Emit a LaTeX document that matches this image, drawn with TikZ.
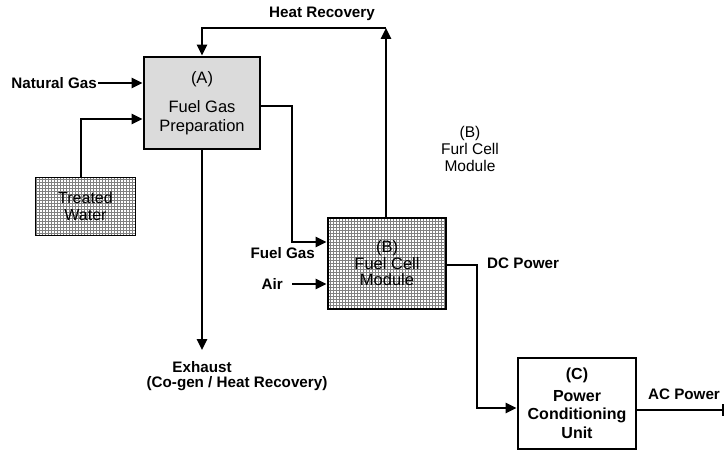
\documentclass[tikz,border=0pt]{standalone}
\usepackage{fontspec}
\setmainfont{Liberation Sans}
\usetikzlibrary{arrows.meta,patterns}
\begin{document}
\begin{tikzpicture}[
        x=1pt, y=-1pt,
        unit/.style={draw, line width=2.6pt, inner sep=0pt, align=center, font=\fontsize{16.5}{19}\selectfont},
        mesh/.style={pattern=grid, pattern color=black!50},
        lbl/.style={font=\bfseries\fontsize{15.2}{17}\selectfont, inner sep=1pt},
        flow/.style={line width=2.5pt, -{Triangle[length=11pt, width=10pt]}},
      ]
        \useasboundingbox (0,0) rectangle (725,452);

        % Process units
        \node[unit, fill=black!14, minimum width=116pt, minimum height=92pt] (prep) at (202,103)
          {(A)\\[10pt]Fuel Gas\\Preparation};
        \node[unit, mesh, line width=1.6pt, minimum width=100pt, minimum height=58pt, font=\fontsize{16}{17}\selectfont] (water) at (85.5,206.5)
          {Treated\\Water};
        \node[unit, mesh, minimum width=118pt, minimum height=91pt, font=\fontsize{16.5}{16.5}\selectfont] (fcm) at (387,263.5)
          {(B)\\Fuel Cell\\Module};
        \node[unit, fill=white, minimum width=118pt, minimum height=91pt, font=\bfseries\fontsize{16}{18.5}\selectfont] (pcu) at (577,403.5)
          {(C)\\[3pt]Power\\Conditioning\\Unit};

        % Labels
        \node[lbl, anchor=east] (ng) at (98,83) {Natural Gas};
        \node[lbl] (hr) at (322,14) {Heat Recovery};
        \node[lbl] (exh) at (202,367) {Exhaust};
        \node[lbl] (cogen) at (237,384) {(Co-gen / Heat Recovery)};
        \node[lbl, anchor=east] (fg) at (316,253) {Fuel Gas};
        \node[lbl, anchor=east] (air) at (284,284) {Air};
        \node[lbl, anchor=west] (dc) at (486,263) {DC Power};
        \node[lbl] (ac) at (684,394) {AC Power};
        \node[align=center, font=\fontsize{15.5}{16.8}\selectfont] (note) at (470,149) {(B)\\Furl Cell\\Module};

        % Bends and free ends
        \coordinate (hrturn) at (386,28);
        \coordinate (exhend) at (202,350);
        \coordinate (fgbend) at (292,242);
        \coordinate (dcbend) at (477,408);
        \coordinate (acend) at (724,410);
        \coordinate (twin) at (81,119);

        % Streams
        \draw[flow] ([xshift=-4.5pt]water.north) |- (twin -| prep.west);
        \draw[flow] (ng.east) -- (ng.east -| prep.west);
        \draw[flow] (fcm.north -| hrturn) -- (hrturn);
        \draw[flow] (hrturn) -| (prep.north);
        \draw[flow] (prep.south) -- (exhend);
        \draw[flow] ([yshift=-3pt]prep.east) -| (fgbend) -- (fgbend -| fcm.west);
        \draw[flow] ([xshift=8pt]air.east) -- (air.east -| fcm.west);
        \draw[flow] ([yshift=-1.5pt]fcm.east) -| (dcbend) -- (dcbend -| pcu.west);
        \draw[line width=2.5pt, -{Bar[width=12pt, line width=2.5pt]}] (acend -| pcu.east) -- (acend);
\end{tikzpicture}
\end{document}
